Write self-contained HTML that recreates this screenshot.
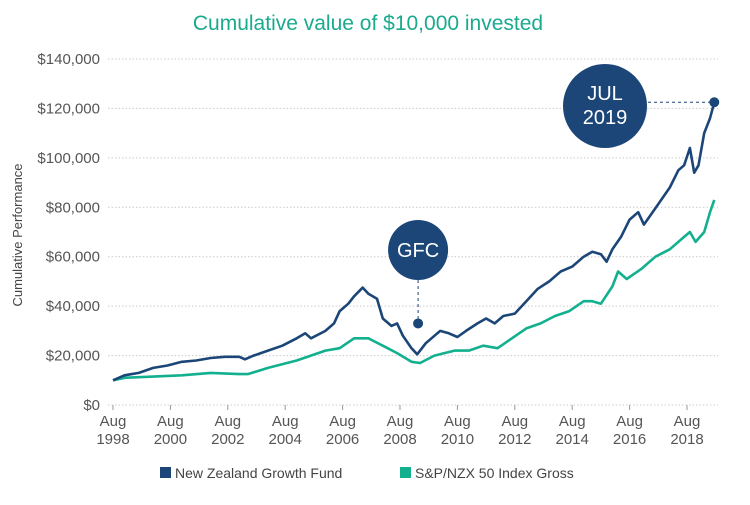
<!DOCTYPE html>
<html><head><meta charset="utf-8"><style>
body{margin:0;background:#fff;width:750px;height:500px;overflow:hidden;font-family:"Liberation Sans",sans-serif}
</style></head><body>
<svg id="c" width="750" height="500" xmlns="http://www.w3.org/2000/svg">
<text x="368" y="30" text-anchor="middle" font-size="21" fill="#1aaa8e">Cumulative value of $10,000 invested</text>
<text transform="translate(22,235) rotate(-90)" text-anchor="middle" font-size="13" fill="#444">Cumulative Performance</text>
<g id="grid"></g><g id="lines"></g><g id="ann"></g>
<g>
<rect x="160" y="467" width="11" height="11" fill="#1b4677"/>
<text x="175" y="478" font-size="14" fill="#444">New Zealand Growth Fund</text>
<rect x="400" y="467" width="11" height="11" fill="#13b08f"/>
<text x="415" y="478" font-size="14" fill="#444">S&amp;P/NZX 50 Index Gross</text>
</g>
</svg>
<script>
const yTicks=[0,20,40,60,80,100,120,140];
const xTickYears=[1998,2000,2002,2004,2006,2008,2010,2012,2014,2016,2018];
const fundDates=[1998.6,1999.0,1999.5,2000.0,2000.5,2001.0,2001.5,2002.0,2002.5,2003.0,2003.2,2003.5,2004.0,2004.5,2005.0,2005.3,2005.5,2006.0,2006.3,2006.5,2006.8,2007.0,2007.3,2007.5,2007.8,2008.0,2008.3,2008.5,2008.7,2009.0,2009.2,2009.5,2009.8,2010.0,2010.3,2010.6,2010.9,2011.3,2011.6,2011.9,2012.2,2012.6,2013.0,2013.4,2013.8,2014.2,2014.6,2015.0,2015.3,2015.6,2015.8,2016.0,2016.3,2016.6,2016.9,2017.1,2017.4,2017.7,2018.0,2018.3,2018.5,2018.7,2018.85,2019.0,2019.2,2019.4,2019.55];
const fundValues=[10,12,13,15,16,17.5,18,19,19.5,19.5,18.5,20,22,24,27,29,27,30,33,38,41,44,47.5,45,43,35,32,33,28,23,20.5,25,28,30,29,27.5,30,33,35,33,36,37,42,47,50,54,56,60,62,61,58,63,68,75,78,73,78,83,88,95,97,104,94,97,110,116,122.5];
const indexDates=[1998.6,1999.0,2000.0,2001.0,2002.0,2003.0,2003.3,2004.0,2005.0,2006.0,2006.5,2007.0,2007.5,2008.0,2008.5,2009.0,2009.3,2009.8,2010.5,2011.0,2011.5,2012.0,2012.5,2013.0,2013.5,2014.0,2014.5,2015.0,2015.3,2015.6,2016.0,2016.2,2016.5,2017.0,2017.5,2018.0,2018.5,2018.7,2018.9,2019.2,2019.4,2019.55];
const indexValues=[10,11,11.5,12,13,12.5,12.5,15,18,22,23,27,27,24,21,17.5,17,20,22,22,24,23,27,31,33,36,38,42,42,41,48,54,51,55,60,63,68,70,66,70,78,83];
const NS="http://www.w3.org/2000/svg";
const X=d=>113+(d-1998.6)*28.7;
const Y=v=>405-v*346/140;
function mk(t,a,p){const e=document.createElementNS(NS,t);for(const k in a)e.setAttribute(k,a[k]);p.appendChild(e);return e;}
const grid=document.getElementById('grid');
yTicks.forEach(v=>{
  const l=mk('line',{x1:108,x2:718,y1:Y(v),y2:Y(v),stroke:'#ccc','stroke-dasharray':'1.5,2'},grid);
  
  
  const t=mk('text',{x:100,y:Y(v)+5,'text-anchor':'end','font-size':15,fill:'#555'},grid);
  t.textContent='$'+(v===0?'0':v+',000');
  
  
});
xTickYears.forEach(yr=>{
  const x=X(yr+0.6);
  mk('line',{x1:x,x2:x,y1:405,y2:410,stroke:'#999'},grid);
  const t=mk('text',{x:x,y:426,'text-anchor':'middle','font-size':15,fill:'#555'},grid);
  t.innerHTML='<tspan x="'+x+'">Aug</tspan><tspan x="'+x+'" dy="18">'+yr+'</tspan>';
  
  
});
const lines=document.getElementById('lines');
function series(ds,vs,col,name){
  const p=mk('path',{d:ds.map((d,i)=>(i?'L':'M')+X(d).toFixed(1)+','+Y(vs[i]).toFixed(1)).join(''),fill:'none',stroke:col,'stroke-width':2.6,'stroke-linejoin':'round'},lines);
  
  
}
series(indexDates,indexValues,'#13b08f','index-line');
series(fundDates,fundValues,'#1b4677','fund-line');
const ann=document.getElementById('ann');
const gx=X(2009.23),gy=Y(33);
mk('line',{x1:gx,x2:gx,y1:280,y2:gy,stroke:'#1b4677','stroke-dasharray':'3,3'},ann);
mk('circle',{cx:gx,cy:gy,r:5,fill:'#1b4677'},ann);
const gc=mk('circle',{cx:gx,cy:250,r:30,fill:'#1b4677'},ann);


const gt=mk('text',{x:gx,y:257,'text-anchor':'middle','font-size':20,fill:'#fff'},ann);gt.textContent='GFC';
const ex=X(fundDates[fundDates.length-1]),ey=Y(fundValues[fundValues.length-1]);
mk('line',{x1:648,x2:ex,y1:ey,y2:ey,stroke:'#1b4677','stroke-dasharray':'3,3'},ann);
mk('circle',{cx:ex,cy:ey,r:5,fill:'#1b4677'},ann);
const jc=mk('circle',{cx:605,cy:106,r:42,fill:'#1b4677'},ann);


const jt=mk('text',{x:605,y:100,'text-anchor':'middle','font-size':20,fill:'#fff'},ann);
jt.innerHTML='<tspan x="605">JUL</tspan><tspan x="605" dy="24">2019</tspan>';
</script>
</body></html>
